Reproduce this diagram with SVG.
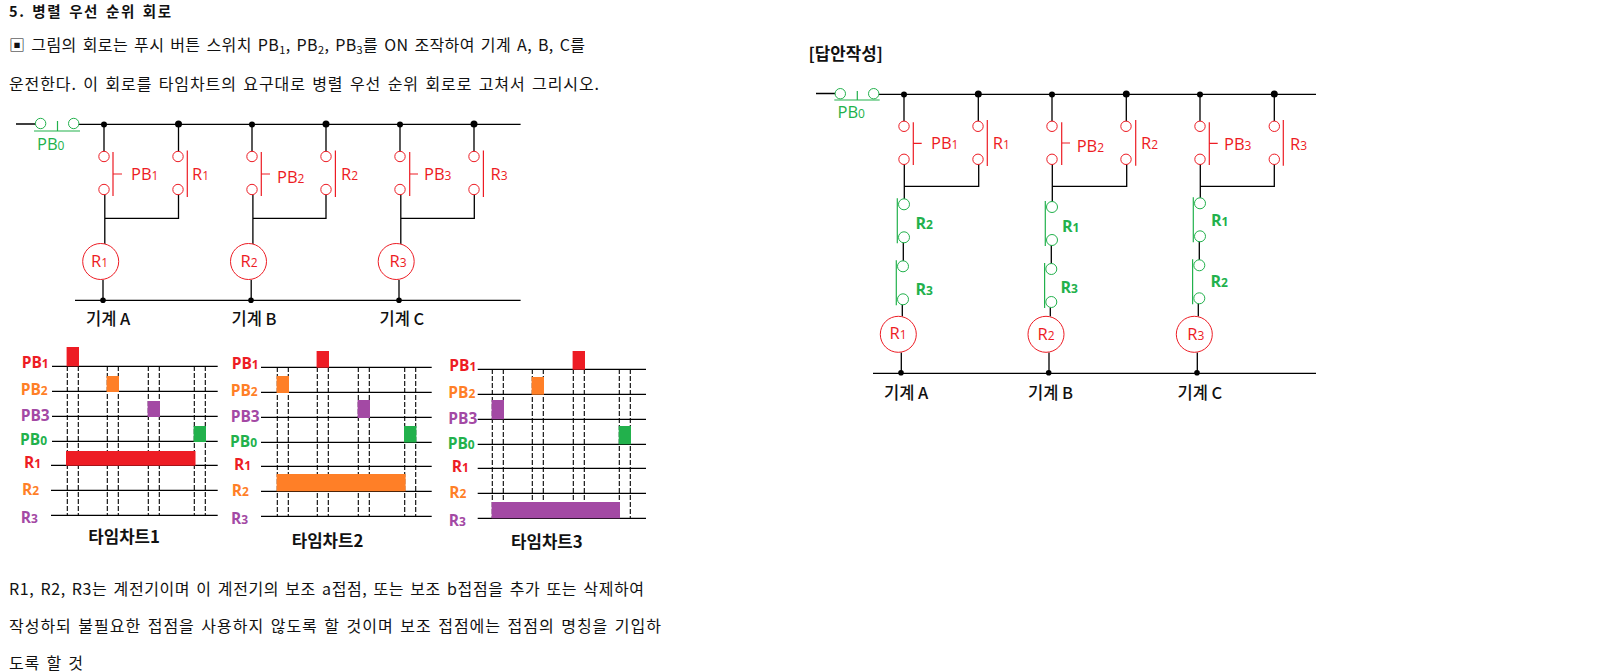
<svg xmlns="http://www.w3.org/2000/svg" width="1600" height="672" viewBox="0 0 1600 672">
<style>
text{font-family:"Noto Sans CJK KR","Noto Sans",sans-serif}
.t{font-size:16px;fill:#111;word-spacing:2px}
.tb{font-size:14.5px;font-weight:700;fill:#111;word-spacing:2px}
.h{font-size:16.8px;font-weight:700;fill:#111}
.m{font-size:16.5px;font-weight:500;fill:#111}
.ct{font-size:16.8px;font-weight:700;fill:#111}
.w{fill:none;stroke:#000;stroke-width:1.3}
.d{fill:none;stroke:#000;stroke-width:1.1;stroke-dasharray:5 2}
.j{fill:#000}
.rc{fill:#fff;stroke:#ed1c24;stroke-width:1}
.gc{fill:#fff;stroke:#22b14c;stroke-width:1}
.rl{fill:none;stroke:#ed1c24;stroke-width:1.2}
.gl{fill:none;stroke:#22b14c;stroke-width:1.2}
.rt{font-family:"Open Sans","Noto Sans",sans-serif;font-size:16.5px;fill:#ed1c24}
.gt{font-family:"Open Sans","Noto Sans",sans-serif;font-size:16.5px;fill:#22b14c}
.gb{font-family:"Open Sans","Noto Sans",sans-serif;font-size:16px;font-weight:700;fill:#22b14c}
.s{font-size:12px}
.lb{font-family:"Open Sans","Noto Sans",sans-serif;font-size:15.5px;font-weight:700}
.cr{fill:#ed1c24}.co{fill:#ff7f27}.cp{fill:#a349a4}.cg{fill:#22b14c}
</style>
<defs>
<g id="contact"><circle class="rc" cx="0" cy="0" r="5.200"/><circle class="rc" cx="0" cy="33" r="5.200"/></g>
<g id="gcontact"><circle class="gc" cx="0" cy="0" r="5.500"/><circle class="gc" cx="0" cy="33" r="5.500"/><path class="gl" d="M-6.700-6V39"/></g>
</defs>

<g id="text-top">
<text class="tb" x="9" y="16.500" textLength="162">5. 병렬 우선 순위 회로</text>
<text class="t" x="9" y="50.500" textLength="576">▣ 그림의 회로는 푸시 버튼 스위치 PB<tspan font-size="11" dy="3">1</tspan><tspan dy="-3">, PB</tspan><tspan font-size="11" dy="3">2</tspan><tspan dy="-3">, PB</tspan><tspan font-size="11" dy="3">3</tspan><tspan dy="-3">를 ON 조작하여 기계 A, B, C를</tspan></text>
<text class="t" x="9" y="90" textLength="590">운전한다. 이 회로를 타임차트의 요구대로 병렬 우선 순위 회로로 고쳐서 그리시오.</text>
</g>

<g id="connectors">
<path class="w" d="M16 124H36M78 124.300H520.600M75 300.300H520.600"/>
<path class="w" d="M104 124V152M178.500 124V152M252 124V152M326 124V152M400 124V152M474 124V152"/>
<path class="w" d="M104.800 195V244M178.500 195V218.300H104.800M252.900 195V244M326 195V218.300H252.900M400.800 195V244M474.300 195V218.300H400.800"/>
<path class="w" d="M103 280V300.300M251.200 280V300.300M399 280V300.300"/>
<path class="w" d="M816 93.500H835.500M879 94.300H1316M873 373.300H1316"/>
<path class="w" d="M904 94V122M978.300 94V122M1052 94V122M1126.300 94V122M1200 94V122M1274.300 94V122"/>
<path class="w" d="M904.300 163.500V199.500M978.700 163.500V186.300H904.300M1052.300 163.500V202M1126.700 163.500V186.300H1052.300M1200.300 163.500V198.500M1274.300 163.500V186.300H1200.300"/>
<path class="w" d="M903.300 242V261.500M902.300 304.500V316.500M1051.300 245V264M1050.300 307.500V316.500M1199.300 241V260.500M1198.300 303.500V316.500"/>
<path class="w" d="M901.300 352.500V373.300M1049 352.500V373.300M1197.300 352.500V373.300"/>
<g class="j">
<circle cx="104" cy="124.500" r="3"/><circle cx="178.500" cy="124" r="3.500"/><circle cx="252" cy="124.500" r="3"/><circle cx="326" cy="124" r="3.500"/><circle cx="400" cy="124.500" r="3"/><circle cx="474" cy="124" r="3.500"/>
<circle cx="103" cy="300.300" r="2.800"/><circle cx="251" cy="300.300" r="2.800"/><circle cx="399" cy="300.300" r="2.800"/>
<circle cx="904" cy="94.500" r="3"/><circle cx="978.300" cy="94" r="3.500"/><circle cx="1052" cy="94.500" r="3"/><circle cx="1126.300" cy="94" r="3.500"/><circle cx="1200" cy="94.500" r="3"/><circle cx="1274.300" cy="94" r="3.500"/>
<circle cx="901" cy="372.700" r="2.800"/><circle cx="1048.700" cy="372.700" r="2.800"/><circle cx="1197" cy="372.700" r="2.800"/>
</g>
</g>

<g id="circuit-left">
<g id="L-PB0"><circle class="gc" cx="40.600" cy="123.500" r="5.200"/><circle class="gc" cx="73.700" cy="123.500" r="5.200"/><path class="gl" d="M34 131H80M57.500 121V131"/><text class="gt" x="37" y="150">PB<tspan class="s">0</tspan></text></g>
<g id="L-PB1"><use href="#contact" x="104" y="156.500"/><path class="rl" d="M113 152V196M113 174H122"/><text class="rt" x="131" y="179.500">PB<tspan class="s">1</tspan></text></g>
<g id="L-R1c"><use href="#contact" x="178" y="156.500"/><path class="rl" d="M187.300 150.500V197"/><text class="rt" x="192" y="179.500">R<tspan class="s">1</tspan></text></g>
<g id="L-PB2"><use href="#contact" x="252" y="156.500"/><path class="rl" d="M261.300 152V196M261.300 174H270"/><text class="rt" x="277" y="182.500">PB<tspan class="s">2</tspan></text></g>
<g id="L-R2c"><use href="#contact" x="326" y="156.500"/><path class="rl" d="M335.400 150.500V197"/><text class="rt" x="341" y="179.500">R<tspan class="s">2</tspan></text></g>
<g id="L-PB3"><use href="#contact" x="400" y="156.500"/><path class="rl" d="M409.700 152V196M409.700 174H418"/><text class="rt" x="424" y="180">PB<tspan class="s">3</tspan></text></g>
<g id="L-R3c"><use href="#contact" x="474" y="156.500"/><path class="rl" d="M483.400 150.500V197"/><text class="rt" x="490.500" y="180">R<tspan class="s">3</tspan></text></g>
<g id="L-coil1"><circle class="rc" cx="100.700" cy="261.500" r="18"/><text class="rt" x="91" y="266.500">R<tspan class="s">1</tspan></text></g>
<g id="L-coil2"><circle class="rc" cx="248.500" cy="261.500" r="18"/><text class="rt" x="240.500" y="267">R<tspan class="s">2</tspan></text></g>
<g id="L-coil3"><circle class="rc" cx="396.200" cy="261.500" r="18"/><text class="rt" x="389.500" y="267">R<tspan class="s">3</tspan></text></g>
<text class="m" x="86" y="325">기계 A</text><text class="m" x="231.500" y="325">기계 B</text><text class="m" x="379.500" y="325">기계 C</text>
</g>

<g id="chart1">
<path class="w" d="M52 366.300H217.700M52 391.300H217.700M52 416.300H217.700M52 441.300H217.700M51 465.300H217.700M51 490.300H217.700M51 515.300H217.700"/>
<path class="d" d="M67.300 366V515M78.300 366V515M107.300 366V515M118.300 366V515M148.300 366V515M159.300 366V515M194.300 366V515M205.300 366V515"/>
<rect class="cr" x="66.600" y="347" width="12.400" height="19.300"/><rect class="co" x="106.600" y="376" width="12.400" height="16"/><rect class="cp" x="147.600" y="401" width="12.400" height="16"/><rect class="cg" x="193.600" y="426" width="12.400" height="16"/><rect class="cr" x="66" y="451" width="129.500" height="14.700"/>
<text class="lb cr" x="21.700" y="368">PB<tspan class="s">1</tspan></text><text class="lb co" x="20.700" y="394.700">PB<tspan class="s">2</tspan></text><text class="lb cp" x="20.700" y="420.700">PB3</text><text class="lb cg" x="20" y="445.300">PB<tspan class="s">0</tspan></text><text class="lb cr" x="24" y="468.300">R<tspan class="s">1</tspan></text><text class="lb co" x="22" y="495">R<tspan class="s">2</tspan></text><text class="lb cp" x="20.700" y="522.700">R<tspan class="s">3</tspan></text>
<text class="ct" x="88.300" y="543">타임차트1</text>
</g>

<g id="chart2">
<path class="w" d="M261 367.300H431.700M261 392.300H431.700M261 417.300H431.700M261 442.300H431.700M261 466.300H431.700M261 491.300H431.700M261 516.300H431.700"/>
<path class="d" d="M277.300 367V516M288.300 367V516M317.300 367V516M328.300 367V516M358.300 367V516M369.300 367V516M404.700 367V516M415.700 367V516"/>
<rect class="cr" x="316.600" y="351" width="12.400" height="16.700"/><rect class="co" x="276.600" y="376" width="12.400" height="17"/><rect class="cp" x="357.600" y="400" width="12.400" height="18"/><rect class="cg" x="404" y="426" width="12.400" height="16.500"/><rect class="co" x="276.600" y="474" width="129" height="17.300"/>
<text class="lb cr" x="231.700" y="369.300">PB<tspan class="s">1</tspan></text><text class="lb co" x="230.700" y="395.700">PB<tspan class="s">2</tspan></text><text class="lb cp" x="230.700" y="421.700">PB3</text><text class="lb cg" x="230" y="446.700">PB<tspan class="s">0</tspan></text><text class="lb cr" x="234" y="470">R<tspan class="s">1</tspan></text><text class="lb co" x="231.700" y="496">R<tspan class="s">2</tspan></text><text class="lb cp" x="231" y="524">R<tspan class="s">3</tspan></text>
<text class="ct" x="291.700" y="547">타임차트2</text>
</g>

<g id="chart3">
<path class="w" d="M477.700 369.300H646M477.700 394.300H646M477.700 419.300H646M477.700 444.300H646M477.700 468.300H646M477.700 493.300H646M477.700 518.300H646"/>
<path class="d" d="M492.300 369V518M503.300 369V518M532.300 369V518M543.300 369V518M573.300 369V518M584.300 369V518M619.300 369V518M630.300 369V518"/>
<rect class="cr" x="572.600" y="351" width="12.400" height="18.700"/><rect class="co" x="531.600" y="377" width="12.400" height="17.700"/><rect class="cp" x="491.600" y="400" width="12.400" height="19.300"/><rect class="cg" x="618.700" y="426" width="12.300" height="18.300"/><rect class="cp" x="491.600" y="502" width="128.400" height="16.300"/>
<text class="lb cr" x="449.300" y="370.700">PB<tspan class="s">1</tspan></text><text class="lb co" x="448.300" y="397.700">PB<tspan class="s">2</tspan></text><text class="lb cp" x="448.300" y="423.700">PB3</text><text class="lb cg" x="447.700" y="448.700">PB<tspan class="s">0</tspan></text><text class="lb cr" x="451.700" y="471.700">R<tspan class="s">1</tspan></text><text class="lb co" x="449.300" y="498">R<tspan class="s">2</tspan></text><text class="lb cp" x="448.700" y="525.700">R<tspan class="s">3</tspan></text>
<text class="ct" x="511" y="548">타임차트3</text>
</g>

<g id="text-bottom">
<text class="t" x="9" y="595" textLength="635">R1, R2, R3는 계전기이며 이 계전기의 보조 a접점, 또는 보조 b접점을 추가 또는 삭제하여</text>
<text class="t" x="9" y="632" textLength="652">작성하되 불필요한 접점을 사용하지 않도록 할 것이며 보조 접점에는 접점의 명칭을 기입하</text>
<text class="t" x="9" y="669" textLength="74">도록 할 것</text>
</g>

<g id="circuit-right">
<text class="h" x="808.500" y="60">[답안작성]</text>
<g id="A-PB0"><circle class="gc" cx="840.300" cy="93.700" r="5.200"/><circle class="gc" cx="873.700" cy="93.700" r="5.200"/><path class="gl" d="M834.300 100H879.700M857.300 91V100"/><text class="gt" x="837.500" y="118.300">PB<tspan class="s">0</tspan></text></g>
<g id="A-PB1"><use href="#contact" x="904" y="126.300"/><path class="rl" d="M913.300 122.300V165M913.300 143.300H921.700"/><text class="rt" x="931" y="149">PB<tspan class="s">1</tspan></text></g>
<g id="A-R1c"><use href="#contact" x="978" y="126.300"/><path class="rl" d="M987.300 120V166"/><text class="rt" x="992.800" y="149">R<tspan class="s">1</tspan></text></g>
<g id="A-PB2"><use href="#contact" x="1052" y="126.300"/><path class="rl" d="M1061.700 122.300V165M1061.700 143H1070"/><text class="rt" x="1076.700" y="151.700">PB<tspan class="s">2</tspan></text></g>
<g id="A-R2c"><use href="#contact" x="1126" y="126.300"/><path class="rl" d="M1135.700 120V165.700"/><text class="rt" x="1141" y="148.700">R<tspan class="s">2</tspan></text></g>
<g id="A-PB3"><use href="#contact" x="1200" y="126.300"/><path class="rl" d="M1209.300 122.300V165M1209.300 143.300H1217.700"/><text class="rt" x="1224" y="150">PB<tspan class="s">3</tspan></text></g>
<g id="A-R3c"><use href="#contact" x="1274.300" y="126.300"/><path class="rl" d="M1283.300 120V165.700"/><text class="rt" x="1290" y="149.700">R<tspan class="s">3</tspan></text></g>
<g id="A-g1"><use href="#gcontact" x="904" y="204.300"/><text class="gb" x="915.500" y="229">R<tspan class="s">2</tspan></text></g>
<g id="A-g2"><use href="#gcontact" x="903" y="266.300"/><text class="gb" x="915.500" y="295">R<tspan class="s">3</tspan></text></g>
<g id="B-g1"><use href="#gcontact" x="1052" y="207"/><text class="gb" x="1062" y="231.700">R<tspan class="s">1</tspan></text></g>
<g id="B-g2"><use href="#gcontact" x="1051.300" y="269"/><text class="gb" x="1060.500" y="292.700">R<tspan class="s">3</tspan></text></g>
<g id="C-g1"><use href="#gcontact" x="1200" y="203.300"/><text class="gb" x="1211" y="226">R<tspan class="s">1</tspan></text></g>
<g id="C-g2"><use href="#gcontact" x="1199.300" y="265.300"/><text class="gb" x="1210.500" y="286.700">R<tspan class="s">2</tspan></text></g>
<g id="A-coil1"><circle class="rc" cx="898.300" cy="334.300" r="18"/><text class="rt" x="889.500" y="339">R<tspan class="s">1</tspan></text></g>
<g id="A-coil2"><circle class="rc" cx="1046" cy="334.300" r="18"/><text class="rt" x="1037.500" y="340">R<tspan class="s">2</tspan></text></g>
<g id="A-coil3"><circle class="rc" cx="1194.300" cy="334.300" r="18"/><text class="rt" x="1187.200" y="339.700">R<tspan class="s">3</tspan></text></g>
<text class="m" x="884" y="399">기계 A</text><text class="m" x="1028" y="399">기계 B</text><text class="m" x="1177.500" y="399">기계 C</text>
</g>
</svg>
